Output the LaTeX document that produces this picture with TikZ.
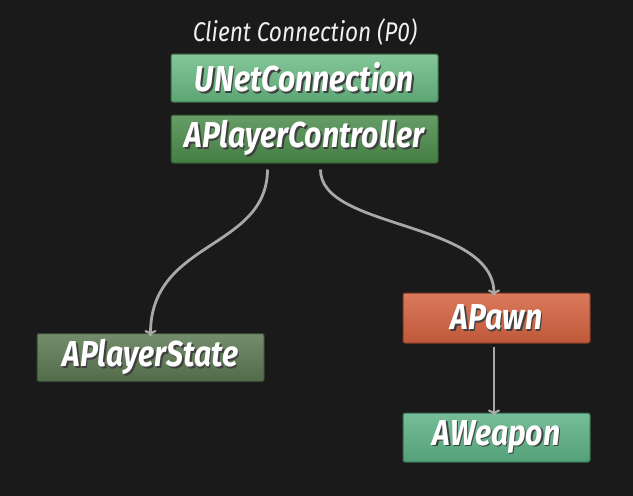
\documentclass[tikz,border=0pt]{standalone}
\usepackage{fontspec}
\setmainfont{Fira Sans}
\newfontfamily\boxfont[FakeStretch=0.84]{Fira Sans}
\usetikzlibrary{arrows.meta}
\definecolor{bg}{HTML}{1A1A1A}
\definecolor{arr}{HTML}{A8A8A8}
\newcommand{\shtxt}[1]{\makebox[0pt][l]{\hspace{1.6pt}\raisebox{-1.8pt}{\color{black!75}#1}}#1}
\tikzset{
  box/.style={draw=#1!60!black, line width=1pt, rounded corners=2pt, minimum height=48pt,
    text=white, font=\boxfont\fontsize{36}{38}\selectfont\bfseries\itshape, inner sep=0pt},
  conn/.style={draw=arr, line width=2.8pt, -{To[length=6pt,width=12pt,line width=2.2pt]}},
}
\definecolor{cUNet}{HTML}{66B880}
\definecolor{cAPC}{HTML}{4C8C4C}
\definecolor{cAPS}{HTML}{5B7852}
\definecolor{cPawn}{HTML}{D4623F}
\definecolor{cWeap}{HTML}{5DB286}
\begin{document}
\begin{tikzpicture}[x=1pt,y=-1pt]
\fill[bg] (0,0) rectangle (633,496);
\useasboundingbox (0,0) rectangle (633,496);
\node[text=white!94!black, font=\boxfont\fontsize{27}{29}\selectfont\itshape] (title) at (305,32) {Client Connection (P0)};
\node[box=cUNet, minimum width=267pt, top color=cUNet!80!white, bottom color=cUNet!90!black] (unet) at (304.5,78) {\shtxt{UNetConnection}};
\node[box=cAPC, minimum width=267pt, top color=cAPC!85!white, bottom color=cAPC!90!black] (apc) at (304.5,139) {\shtxt{APlayerController}};
\node[box=cAPS, minimum width=227pt, top color=cAPS!85!white, bottom color=cAPS!90!black] (aps) at (150.5,357.5) {\shtxt{APlayerState}};
\node[box=cPawn, minimum width=187pt, minimum height=50pt, top color=cPawn!85!white, bottom color=cPawn!90!black] (pawn) at (496.5,318) {\shtxt{APawn}};
\node[box=cWeap, minimum width=187pt, minimum height=49pt, top color=cWeap!85!white, bottom color=cWeap!90!black] (weap) at (496.5,437.5) {\shtxt{AWeapon}};
\coordinate (s1) at ([xshift=-37pt,yshift=-6pt]apc.south);
\coordinate (s2) at ([xshift=16pt,yshift=-6pt]apc.south);
\draw[conn] (s1) .. controls (267,250) and (150,240) .. ([yshift=-3pt]aps.north);
\draw[conn] (s2) .. controls (320,230) and (494,220) .. ([xshift=-2.5pt,yshift=-3pt]pawn.north);
\draw[conn] ([xshift=-2.5pt,yshift=-3pt]pawn.south) -- ([xshift=-2.5pt,yshift=-3pt]weap.north);
\end{tikzpicture}
\end{document}
